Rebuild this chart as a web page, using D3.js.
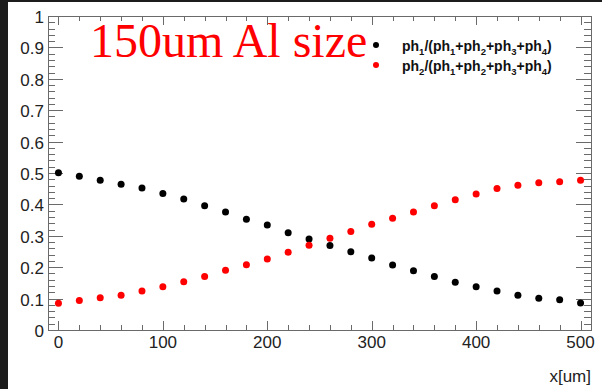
<!DOCTYPE html>
<html>
<head>
<meta charset="utf-8">
<script src="https://d3js.org/d3.v7.min.js"></script>
<style>
  body { margin: 0; background: #fff; }
  #chart { width: 602px; height: 389px; }
</style>
</head>
<body>
<div id="chart"></div>
<script>
// data
var xPos = [0, 20, 40, 60, 80, 100, 120, 140, 160, 180, 200, 220, 240,
            260, 280, 300, 320, 340, 360, 380, 400, 420, 440, 460, 480, 500];
var ratio1 = [0.501, 0.490, 0.477, 0.464, 0.452, 0.435, 0.417, 0.396, 0.376, 0.353,
              0.334, 0.310, 0.290, 0.269, 0.249, 0.229, 0.207, 0.189, 0.170, 0.152,
              0.138, 0.124, 0.111, 0.101, 0.096, 0.086];
var ratio2 = [0.085, 0.094, 0.103, 0.111, 0.124, 0.138, 0.154, 0.170, 0.190, 0.208,
              0.226, 0.248, 0.270, 0.292, 0.314, 0.337, 0.356, 0.376, 0.396, 0.415,
              0.433, 0.451, 0.461, 0.469, 0.472, 0.477];
var xTicks = [0, 100, 200, 300, 400, 500];
var yTicks = [0, 0.1, 0.2, 0.3, 0.4, 0.5, 0.6, 0.7, 0.8, 0.9, 1];
var seriesColors = ["#000000", "#ff0000"];

var W = 602, H = 389;
var frame = {left: 48, top: 16, right: 591, bottom: 330};
var axisCol = "#6a6a6a";
var sans = "'Liberation Sans', Arial, sans-serif";

var svg = d3.select("#chart").append("svg")
    .attr("width", W)
    .attr("height", H);

svg.append("rect").attr("width", W).attr("height", H).attr("fill", "#fff");
//dark window edges
svg.append("rect").attr("x", 0).attr("y", 0).attr("width", 8).attr("height", H).attr("fill", "#1c1c1c");
svg.append("rect").attr("x", 0).attr("y", 0).attr("width", W).attr("height", 2).attr("fill", "#1c1c1c");

var xScale = d3.scaleLinear().domain([-10, 510]).range([frame.left, frame.right]);
var yScale = d3.scaleLinear().domain([0, 1]).range([frame.bottom, frame.top]);

//minor ticks
var xMinor = d3.range(-0, 501, 20);
var yMinor = d3.range(0, 1.0001, 0.02);
var g = svg.append("g").attr("stroke", axisCol).attr("stroke-width", 1).attr("shape-rendering", "crispEdges");

xMinor.forEach(function(v){
  var big = v % 100 === 0;
  var len = big ? 9 : 5;
  var x = Math.round(xScale(v)) + 0.5;
  g.append("line").attr("x1", x).attr("x2", x).attr("y1", frame.bottom).attr("y2", frame.bottom - len);
  g.append("line").attr("x1", x).attr("x2", x).attr("y1", frame.top).attr("y2", frame.top + len);
});
yMinor.forEach(function(v, i){
  var big = i % 5 === 0;
  var len = big ? 15 : 7;
  var y = Math.round(yScale(v)) + 0.5;
  g.append("line").attr("x1", frame.left).attr("x2", frame.left + len).attr("y1", y).attr("y2", y);
  g.append("line").attr("x1", frame.right).attr("x2", frame.right - len).attr("y1", y).attr("y2", y);
});

g.append("rect")
  .attr("x", frame.left + 0.5).attr("y", frame.top + 0.5)
  .attr("width", frame.right - frame.left).attr("height", frame.bottom - frame.top)
  .attr("fill", "none");

//tick labels
svg.selectAll(".xLab").data(xTicks).enter().append("text")
  .attr("x", function(d){ return xScale(d); })
  .attr("y", 348)
  .attr("text-anchor", "middle")
  .style("font-family", sans).style("font-size", "17px").attr("fill", "#222")
  .text(function(d){ return d; });

svg.selectAll(".yLab").data(yTicks).enter().append("text")
  .attr("x", 44)
  .attr("y", function(d){ return yScale(d) + 7; })
  .attr("text-anchor", "end")
  .style("font-family", sans).style("font-size", "17px").attr("fill", "#222")
  .text(function(d){ return d === 0 || d === 1 ? d : d.toFixed(1); });

svg.append("text")
  .attr("x", 591).attr("y", 382)
  .attr("text-anchor", "end")
  .style("font-family", sans).style("font-size", "17px").attr("fill", "#222")
  .text("x[um]");

//points
[ratio1, ratio2].forEach(function(vals, k){
  svg.append("g").selectAll("circle")
    .data(vals).enter().append("circle")
    .attr("cx", function(d, i){ return xScale(xPos[i]); })
    .attr("cy", function(d){ return yScale(d); })
    .attr("r", 3.5)
    .attr("fill", seriesColors[k]);
});

//title
svg.append("text")
  .attr("x", 90).attr("y", 57)
  .style("font-family", "'Liberation Serif', 'Times New Roman', serif")
  .style("font-size", "48px")
  .attr("fill", "#ff0000")
  .text("150um Al size");

//legend
var legY = [45, 65];
[0, 1].forEach(function(k){
  svg.append("circle").attr("cx", 376).attr("cy", legY[k]).attr("r", 3)
    .attr("fill", seriesColors[k]);
  var t = svg.append("text")
    .attr("x", 402).attr("y", legY[k] + 6)
    .style("font-family", sans).style("font-size", "14px").style("font-weight", "bold")
    .attr("fill", "#111");
  var num = k === 0 ? "1" : "2";
  var parts = [["ph", 0], [num, 1], ["/(ph", 0], ["1", 1], ["+ph", 0], ["2", 1],
               ["+ph", 0], ["3", 1], ["+ph", 0], ["4", 1], [")", 0]];
  var shift = 0;
  parts.forEach(function(p){
    var target = p[1] ? 4 : 0;
    t.append("tspan")
      .attr("dy", target - shift)
      .style("font-size", p[1] ? "9.5px" : null)
      .text(p[0]);
    shift = target;
  });
});
</script>
</body>
</html>
